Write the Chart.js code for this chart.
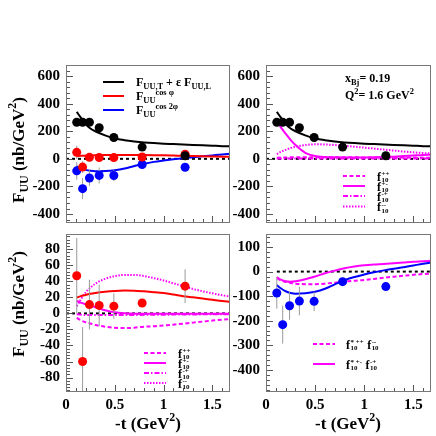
<!DOCTYPE html>
<html>
<head>
<meta charset="utf-8">
<script src="https://cdn.jsdelivr.net/npm/chart.js@4.4.1/dist/chart.umd.min.js"></script>
<style>
  html, body { margin: 0; padding: 0; background: #fff; }
  #wrap { position: relative; width: 436px; height: 436px; }
  canvas { position: absolute; left: 0; top: 0; }
</style>
</head>
<body>
<div id="wrap">
  <canvas id="c4" width="436" height="436"></canvas>
  <canvas id="c3" width="436" height="436"></canvas>
  <canvas id="c2" width="436" height="436"></canvas>
  <canvas id="c1" width="436" height="436"></canvas>
</div>
<script>
// measured points (-t in GeV^2)
const tData = [0.11, 0.17, 0.24, 0.34, 0.49, 0.78, 1.22]
const fTL = [265, 265, 265, 225, 155, 85, 22]
const fTLErr = [10, 10, 10, 10, 8, 8, 8]
const fCos = [47, -60, 11, 10, 9, 13, 34]
const fCosErr = [47, 43, 31, 26, 16, 5, 21]
const fCos2 = [-87, -216, -139, -120, -121, -41, -61]
const fCos2Err = [64, 77, 57, 58, 39, 10, 15]

// model curves
const tModel = [0.11, 0.15, 0.2, 0.25, 0.3, 0.4, 0.5, 0.6, 0.7, 0.8, 0.9, 1.0, 1.1, 1.2, 1.3, 1.4, 1.5, 1.6, 1.68]
const modelTL = [340, 300, 252, 220, 200, 170, 148, 135, 126, 119, 114, 110, 107, 104, 101, 98, 95, 92, 91]
const modelCos = [19.5, 21.5, 23, 24.5, 25.5, 27, 28, 28.5, 28.3, 27.5, 26.5, 25.3, 23.5, 21.5, 20, 18.5, 17, 15.5, 14.5]
const modelCos2 = [-55, -68, -80, -87, -90, -88, -82, -70, -52, -35, -22, -12, -3, 5, 12, 18, 25, 32, 37]
// f10 pieces of F_UU,T
const tlPP = [8, 9, 10, 11, 11, 12, 12, 12, 12, 11, 11, 10, 10, 10, 9, 9, 9, 8, 8]
const tlPM = [275, 230, 182, 138, 100, 44, 20, 13, 11, 10, 10, 10, 11, 13, 16, 20, 24, 28, 30]
const tlMP = [3, 3, 3, 3, 3, 3, 3, 3, 3, 3, 3, 3, 3, 3, 3, 3, 3, 3, 3]
const tlMM = [35, 50, 65, 78, 88, 100, 105, 104, 100, 94, 88, 81, 74, 67, 60, 53, 47, 42, 39]
// f10 pieces of F_UU^cos phi
const cosPP = [-5.5, -8.5, -11, -12.5, -14.5, -16.5, -18, -18.3, -17.8, -16.5, -16, -15, -14, -12.8, -11.5, -10.2, -9, -7.8, -7]
const cosPM = [15.5, 13.5, 11.5, 10, 7.5, 4, 1.5, 0.3, -0.3, -0.5, -0.5, -0.5, -0.5, -0.5, -0.5, -0.5, -0.5, -0.5, -0.5]
const cosMP = [-1, -1.5, -2, -2, -2, -2, -2, -2, -2, -1.8, -1.8, -1.6, -1.5, -1.4, -1.3, -1.2, -1.1, -1, -1]
const cosMM = [9, 17, 26, 32, 37, 43, 46.5, 48, 48, 46.5, 44, 41, 37.5, 34, 30.5, 27.5, 25, 22.5, 21]
// pieces of F_UU^cos 2phi
const cos2A = [-27, -35, -42, -46, -49, -51, -51, -49, -45, -41, -37, -34, -30, -25, -21, -17, -13, -10, -8]
const cos2B = [-22, -33, -39, -41, -39, -31, -20, -7, 4, 14, 21, 26, 29, 31, 34, 37, 40, 42, 44]

// axes
const xTicks = [0, 0.5, 1, 1.5]
const xLabels = ['0', '0.5', '1', '1.5']
const yTicksTop = [-400, -200, 0, 200, 400, 600]
const yLabelsTop = ['-400', '-200', '0', '200', '400', '600']
const yTicksBL = [-80, -60, -40, -20, 0, 20, 40, 60, 80]
const yLabelsBL = ['-80', '-60', '-40', '-20', '0', '20', '40', '60', '80']
const yTicksBR = [-400, -300, -200, -100, 0, 100]
const yLabelsBR = ['-400', '-300', '-200', '-100', '0', '100']

const serif = '"Liberation Serif", "DejaVu Serif", serif'
const MAG = '#ff00ff'

function setFont(ctx, size) { ctx.font = 'bold ' + size + 'px ' + serif }

function richWidth(ctx, parts, size) {
  let w = 0
  for (const p of parts) {
    if (p.length === 1) { setFont(ctx, size); w += ctx.measureText(p[0]).width }
    else if (p[0] === 's') { setFont(ctx, size * 0.58); w += Math.max(ctx.measureText(p[1]).width, ctx.measureText(p[2]).width) }
    else { setFont(ctx, size * 0.7); w += ctx.measureText(p[1]).width }
  }
  return w
}

function drawRich(ctx, parts, x, y, size, align) {
  let cx = align === 'center' ? x - richWidth(ctx, parts, size) / 2 : x
  ctx.textAlign = 'left'
  ctx.textBaseline = 'alphabetic'
  ctx.fillStyle = '#000'
  const base = y + size * 0.33
  for (const p of parts) {
    if (p.length === 1) {
      setFont(ctx, size)
      ctx.fillText(p[0], cx, base)
      cx += ctx.measureText(p[0]).width
    } else if (p[0] === '_') {
      setFont(ctx, size * 0.7)
      ctx.fillText(p[1], cx, base + size * 0.28)
      cx += ctx.measureText(p[1]).width
    } else if (p[0] === '^') {
      setFont(ctx, size * 0.7)
      ctx.fillText(p[1], cx, base - size * 0.45)
      cx += ctx.measureText(p[1]).width
    } else {
      // stacked sub + sup, small so rows 10px apart do not collide
      setFont(ctx, size * 0.58)
      ctx.fillText(p[1], cx + 0.5, base + size * 0.12)
      ctx.fillText(p[2], cx + 0.5, base - size * 0.38)
      cx += Math.max(ctx.measureText(p[1]).width, ctx.measureText(p[2]).width) + 1
    }
  }
}

function legLine(ctx, x1, x2, y, color, dash) {
  ctx.save()
  ctx.strokeStyle = color
  ctx.lineWidth = 2
  ctx.setLineDash(dash || [])
  ctx.beginPath()
  ctx.moveTo(x1, y)
  ctx.lineTo(x2, y)
  ctx.stroke()
  ctx.restore()
}

const yTitle = [['F'], ['_', 'UU'], [' (nb/GeV'], ['^', '2'], [')']]
const xTitle = [['-t (GeV'], ['^', '2'], [')']]
const dashPP = [4, 2.5], dashMP = [5, 2, 1.5, 2], dashMM = [1.5, 1.5]

function f10Legend(ctx, lx, tx, rows) {
  const names = ['++', '+-', '-+', '--']
  const dashes = [dashPP, [], dashMP, dashMM]
  rows.forEach((y, i) => {
    legLine(ctx, lx, lx + 22, y, MAG, dashes[i])
    drawRich(ctx, [['f'], ['s', '10', names[i]]], tx, y + 1, 12)
  })
}

const extras = {
  c1: (ctx) => {
    legLine(ctx, 103, 124, 82, '#000')
    legLine(ctx, 103, 124, 96, '#f00')
    legLine(ctx, 103, 124, 110, '#00f')
    drawRich(ctx, [['F'], ['_', 'UU,T'], [' + ε F'], ['_', 'UU,L']], 136, 82, 12)
    drawRich(ctx, [['F'], ['_', 'UU'], ['^', 'cos φ']], 136, 96, 12)
    drawRich(ctx, [['F'], ['_', 'UU'], ['^', 'cos 2φ']], 136, 110, 12)
    ctx.save(); ctx.translate(18, 150); ctx.rotate(-Math.PI / 2)
    drawRich(ctx, yTitle, 0, 0, 17, 'center'); ctx.restore()
  },
  c2: (ctx) => {
    drawRich(ctx, [['x'], ['_', 'Bj'], ['= 0.19']], 345, 78, 12)
    drawRich(ctx, [['Q'], ['^', '2'], ['= 1.6 GeV'], ['^', '2']], 345, 95, 12)
    f10Legend(ctx, 343, 377, [176, 186, 196, 206.5])
  },
  c3: (ctx) => {
    f10Legend(ctx, 144, 178, [353, 363, 373, 383])
    ctx.save(); ctx.translate(18, 304); ctx.rotate(-Math.PI / 2)
    drawRich(ctx, yTitle, 0, 0, 17, 'center'); ctx.restore()
    drawRich(ctx, xTitle, 148, 423, 17, 'center')
  },
  c4: (ctx) => {
    legLine(ctx, 313, 335, 344, MAG, dashPP)
    legLine(ctx, 313, 335, 364, MAG, [])
    drawRich(ctx, [['f'], ['s', '10', '* ++'], [' f'], ['s', '10', '--']], 346, 345, 12)
    drawRich(ctx, [['f'], ['s', '10', '* +-'], [' f'], ['s', '10', '-+']], 346, 365, 12)
    drawRich(ctx, xTitle, 348, 423, 17, 'center')
  }
}

const minorStep = { c1: 40, c2: 40, c3: 4, c4: 20 }

const decor = {
  id: 'decor',
  afterDatasetsDraw(chart) {
    const ctx = chart.ctx, a = chart.chartArea
    const xs = chart.scales.x, ys = chart.scales.y
    ctx.save()
    ctx.strokeStyle = '#555'
    ctx.lineWidth = 1
    ctx.beginPath()
    for (let i = 0; i <= 16; i++) {
      const px = Math.round(xs.getPixelForValue(i / 10)) + 0.5
      const len = i % 5 === 0 ? 7 : 4
      ctx.moveTo(px, a.bottom)
      ctx.lineTo(px, a.bottom - len)
    }
    const step = minorStep[chart.canvas.id]
    for (let v = Math.ceil(ys.min / step) * step; v <= ys.max; v += step) {
      const py = Math.round(ys.getPixelForValue(v)) + 0.5
      const len = v % (step * 5) === 0 ? 7 : 4
      ctx.moveTo(a.left, py)
      ctx.lineTo(a.left + len, py)
    }
    ctx.stroke()
    ctx.strokeStyle = '#777'
    ctx.strokeRect(Math.round(a.left) + 0.5, Math.round(a.top) + 0.5, Math.round(a.right - a.left) - 1, Math.round(a.bottom - a.top) - 1)
    ctx.restore()
  },
  afterDraw(chart) {
    const ctx = chart.ctx
    ctx.save()
    extras[chart.canvas.id](ctx)
    ctx.restore()
  }
}

function pts(xs, ys) { return xs.map((x, i) => ({ x: x, y: ys[i] })) }

function markers(ys, color) {
  return { data: pts(tData, ys), showLine: false, pointRadius: 4.5, pointBackgroundColor: color, pointBorderWidth: 0 }
}

function errBars(ys, errs) {
  return tData.map((t, i) => ({
    data: [{ x: t, y: ys[i] - errs[i] }, { x: t, y: ys[i] + errs[i] }],
    showLine: true, borderColor: '#9a9a9a', borderWidth: 1, pointRadius: 0
  }))
}

function curve(ys, color, dash) {
  return {
    data: pts(tModel, ys), showLine: true, borderColor: color, borderWidth: 2,
    borderDash: dash || [], pointRadius: 0, cubicInterpolationMode: 'monotone'
  }
}

function zeroLine(x0) {
  return { data: [{ x: x0, y: 0 }, { x: 1.68, y: 0 }], showLine: true, borderColor: '#000', borderWidth: 2, borderDash: [3, 3], pointRadius: 0 }
}

const tickFont = { family: serif, weight: 'bold', size: 15 }

function makeChart(id, box, yMin, yMax, yTicks, yLabels, showX, datasets) {
  return new Chart(document.getElementById(id), {
    type: 'scatter',
    data: { datasets: datasets },
    options: {
      responsive: false,
      animation: false,
      events: [],
      layout: { padding: { left: 0, top: box[1], right: 436 - box[2], bottom: 0 } },
      plugins: { legend: { display: false }, tooltip: { enabled: false } },
      scales: {
        x: {
          type: 'linear', min: 0, max: 1.68,
          grid: { display: false, drawTicks: false },
          border: { display: false },
          afterBuildTicks: (s) => { s.ticks = xTicks.map(v => ({ value: v })) },
          afterFit: (s) => { s.height = 436 - box[3] },
          ticks: {
            display: showX, padding: 4, color: '#000', font: tickFont,
            autoSkip: false, maxRotation: 0,
            callback: (v) => xLabels[xTicks.indexOf(v)]
          }
        },
        y: {
          type: 'linear', min: yMin, max: yMax,
          grid: { display: false, drawTicks: false },
          border: { display: false },
          afterBuildTicks: (s) => { s.ticks = yTicks.map(v => ({ value: v })) },
          afterFit: (s) => { s.width = box[0] },
          ticks: {
            padding: 6, color: '#000', font: tickFont, autoSkip: false,
            callback: (v) => yLabels[yTicks.indexOf(v)]
          }
        }
      }
    },
    plugins: [decor]
  })
}

const magCurves = (pp, pm, mp, mm) => [
  curve(pp, MAG, dashPP), curve(pm, MAG), curve(mp, MAG, dashMP), curve(mm, MAG, dashMM)
]

makeChart('c1', [66, 65, 230, 223], -465, 680, yTicksTop, yLabelsTop, false, [
  markers(fTL, '#000'), markers(fCos, '#f00'), markers(fCos2, '#00f'),
  ...errBars(fTL, fTLErr), ...errBars(fCos, fCosErr), ...errBars(fCos2, fCos2Err),
  curve(modelTL, '#000'), curve(modelCos, '#f00'), curve(modelCos2, '#00f'),
  zeroLine(0)
])

makeChart('c2', [266, 65, 431, 223], -465, 680, yTicksTop, yLabelsTop, false, [
  markers(fTL, '#000'), ...errBars(fTL, fTLErr),
  curve(modelTL, '#000'), ...magCurves(tlPP, tlPM, tlMP, tlMM),
  zeroLine(0)
])

makeChart('c3', [66, 234, 230, 392], -98, 99, yTicksBL, yLabelsBL, true, [
  markers(fCos, '#f00'), ...errBars(fCos, fCosErr),
  curve(modelCos, '#f00'), ...magCurves(cosPP, cosPM, cosMP, cosMM),
  zeroLine(0)
])

makeChart('c4', [266, 234, 431, 392], -490, 153, yTicksBR, yLabelsBR, true, [
  markers(fCos2, '#00f'), ...errBars(fCos2, fCos2Err),
  curve(modelCos2, '#00f'), curve(cos2A, MAG, dashPP), curve(cos2B, MAG),
  zeroLine(0.11)
])
</script>
</body>
</html>
